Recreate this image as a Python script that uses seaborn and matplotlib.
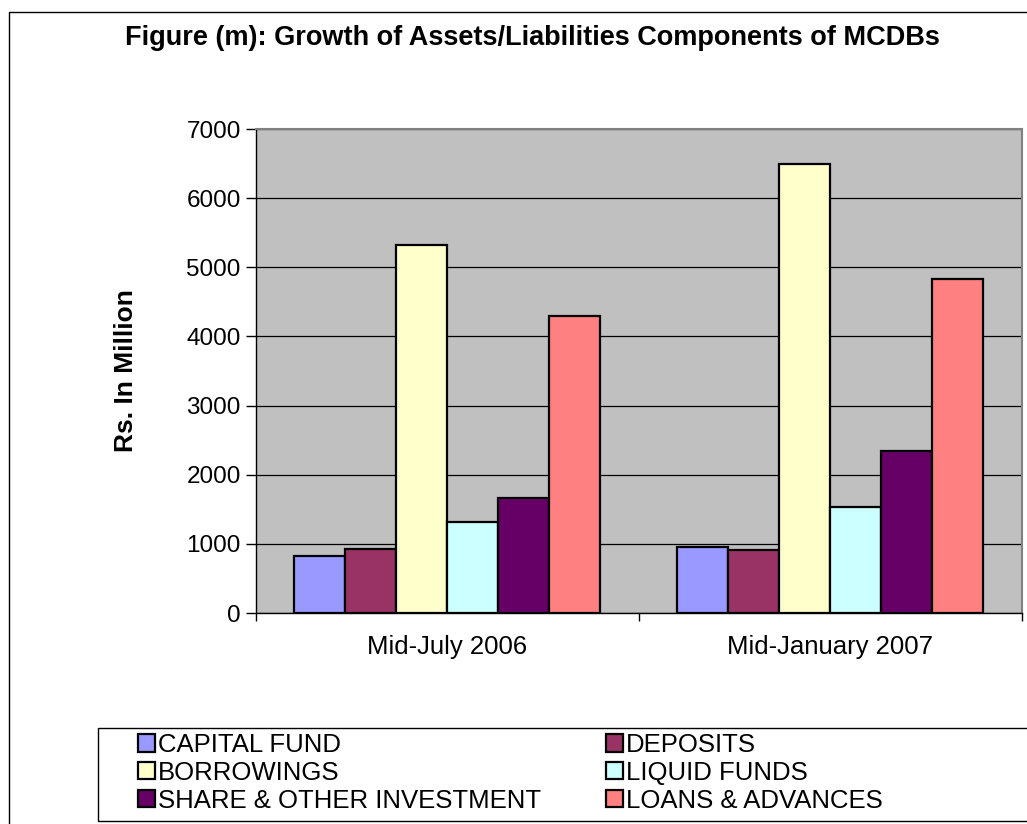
import numpy as np
import pandas as pd
import matplotlib
matplotlib.use('Agg')
import matplotlib.pyplot as plt
from matplotlib.patches import Rectangle
import seaborn as sns

# data (Rs. in million)
periods = ['Mid-July 2006', 'Mid-January 2007']
components = ['CAPITAL FUND', 'DEPOSITS', 'BORROWINGS', 'LIQUID FUNDS',
              'SHARE & OTHER INVESTMENT', 'LOANS & ADVANCES']
july_2006 = [820, 920, 5320, 1310, 1665, 4295]
jan_2007 = [955, 910, 6500, 1530, 2340, 4830]
colors = ['#9999FF', '#993366', '#FFFFCC', '#CCFFFF', '#660066', '#FF8080']

df = pd.DataFrame({
    'period': [periods[0]] * 6 + [periods[1]] * 6,
    'component': components * 2,
    'value': july_2006 + jan_2007,
})

sns.set_style('white')
plt.rcParams['font.family'] = ['Liberation Sans', 'DejaVu Sans']
plt.rcParams['text.color'] = 'black'
plt.rcParams['axes.labelcolor'] = 'black'
plt.rcParams['xtick.color'] = 'black'
plt.rcParams['ytick.color'] = 'black'

W, H = 1027, 824
fig = plt.figure(figsize=(W / 100, H / 100), dpi=100)

# outer chart frame (cut off at right/bottom like the original)
fig.patches.append(Rectangle((9 / W, -0.1), 1.2, 1 - 12 / H + 0.1, transform=fig.transFigure,
                             fill=False, edgecolor='black', linewidth=1.0))

ax = fig.add_axes([256 / W, 1 - 613 / H, (1021.5 - 256) / W, (613 - 129) / H])
ax.set_facecolor('#C0C0C0')
sns.barplot(data=df, x='period', y='value', hue='component', hue_order=components,
            palette=colors, width=0.8, edgecolor='black', linewidth=1.6,
            saturation=1, ax=ax, legend=False)

ax.set_ylim(0, 7000)
ax.set_xlim(-0.5, 1.5)
ax.set_yticks(np.arange(0, 7001, 1000))
ax.yaxis.grid(True, color='black', linewidth=0.9)
ax.set_axisbelow(True)
ax.tick_params(axis='y', labelsize=17.5, length=7, width=1, direction='out', left=True, pad=4)
ax.tick_params(axis='x', which='major', labelsize=18.5, length=0, pad=16)
ax.set_xticks([-0.5, 0.5, 1.5], minor=True)
ax.tick_params(axis='x', which='minor', length=6, width=1, direction='out', bottom=True)
ax.set_xlabel('')
ax.set_ylabel('Rs. In Million', fontsize=19, fontweight='bold')
ax.yaxis.set_label_coords((138 - 256) / 765.5, 0.5)
for side in ['left', 'bottom']:
    ax.spines[side].set_color('black')
    ax.spines[side].set_linewidth(1.0)
for side in ['top', 'right']:
    ax.spines[side].set_color('#808080')
    ax.spines[side].set_linewidth(1.5)

fig.text(532 / W, 1 - 38 / H, 'Figure (m): Growth of Assets/Liabilities Components of MCDBs',
         ha='center', va='center', fontsize=19.5, fontweight='bold')

# legend box
fig.patches.append(Rectangle((98 / W, 3 / H), 1.0, (H - 728 - 3) / H, transform=fig.transFigure,
                             fill=False, edgecolor='black', linewidth=1.0))
handles = [Rectangle((0, 0), 1, 1, facecolor=c, edgecolor='black', linewidth=1.6) for c in colors]
order = [0, 2, 4, 1, 3, 5]
fig.legend([handles[i] for i in order], [components[i] for i in order],
           loc='upper left', bbox_to_anchor=(138 / W, 1 - 733 / H), ncol=2,
           frameon=False, fontsize=18.5, handlelength=0.65, handleheight=0.65,
           handletextpad=0.12, columnspacing=2.55, labelspacing=0.15, borderpad=0, borderaxespad=0)

fig.savefig('out.png', dpi=100)
